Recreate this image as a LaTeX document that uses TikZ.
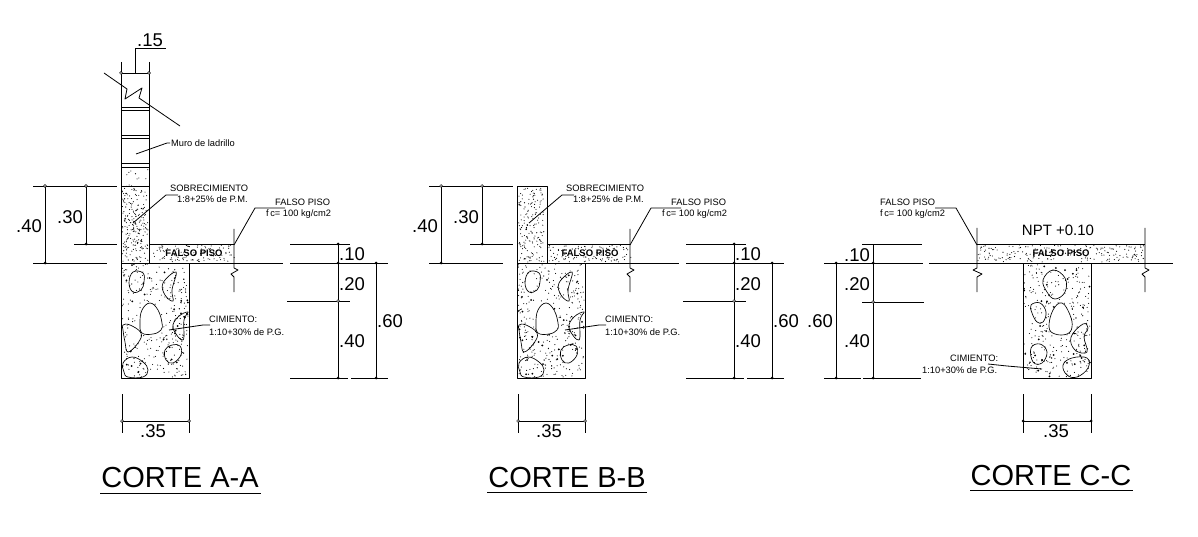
\documentclass[tikz,border=0pt]{standalone}
\usepackage{fontspec}
\setmainfont{Liberation Sans}
\tikzset{
  linea/.style={line width=0.8pt, line join=round},
  stone/.style={line width=0.65pt, smooth cycle, tension=0.7},
  dimtext/.style={inner sep=0pt, font=\fontsize{18.5}{18}\selectfont},
  notetext/.style={inner sep=0pt, anchor=west, font=\fontsize{9.3}{10}\selectfont},
  slabtext/.style={inner sep=0pt, font=\fontsize{9.5}{10}\selectfont\bfseries},
  titletext/.style={inner sep=0pt, font=\fontsize{29}{30}\selectfont}
}
% random concrete dots inside a box
\newcommand{\stipple}[6]{
  \foreach \i in {1,...,#5}{
    \pgfmathsetmacro\dotx{#1+rnd*(#3-#1)}
    \pgfmathsetmacro\doty{#2+rnd*(#4-#2)}
    \fill (\dotx,\doty) circle (#6);
  }
}
\newcommand{\dimdots}[1]{\foreach \p in {#1}{\fill \p circle (1.5);}}
\newcommand{\opendots}[1]{\foreach \p in {#1}{\filldraw[fill=white,line width=0.5pt] \p circle (1.4);}}
\begin{document}
\begin{tikzpicture}[x=1pt,y=-1pt]
\useasboundingbox (0,0) rectangle (1198,537);
\pgfmathsetseed{4711}

% parts shared by corte A-A and corte B-B
\foreach \sx/\wl/\s in {0/149/a,396/151/b}{
\begin{scope}[shift={(\sx,0)}]
  \stipple{122}{264}{188}{377}{300}{0.55}
  \stipple{122}{264}{188}{377}{30}{1.0}
  \stipple{122}{188}{148}{262}{170}{0.55}
  \stipple{\wl+1}{245}{233}{262}{110}{0.55}
  \draw[linea] (121,263) rectangle (189,378);
  \draw[linea] (\wl,263) -- (\wl,244) -- (234,244);
  % stones
  \draw[stone] plot coordinates {(129,283) (133,272) (143,273) (144,282) (141,290) (133,292)};
  \draw[stone] plot coordinates {(163,283) (176,272) (172,290) (173,301) (165,295)};
  \draw[stone,fill=white] plot coordinates {(140,323) (142,310) (150,303) (158,310) (162,323) (161,330) (153,334) (142,333)};
  \draw[stone] plot coordinates {(188,312) (178,317) (173,328) (183,340) (184,320)};
  \draw[stone] plot coordinates {(123,325) (130,325) (141,333) (138,343) (128,352) (125,342) (123,330)};
  \draw[stone] plot coordinates {(165,350) (172,345) (180,346) (181,355) (173,363) (166,360)};
  \draw[stone] plot coordinates {(123,363) (132,357) (143,362) (148,370) (143,377) (128,377) (124,372)};
  % floor line and break
  \draw[linea] (121,263) -- (283,263);
  \draw[linea] (290,263) -- (388,263);
  \draw[linea] (234,229) -- (234,268) -- (238,270) -- (231,274) -- (234,277) -- (234,292);
  % dimensions
  \draw[linea] (33,186) -- (117,186);
  \draw[linea] (33,263) -- (107,263);
  \draw[linea] (74,244) -- (117,244);
  \draw[linea] (45,186) -- (45,263);
  \draw[linea] (86,186) -- (86,244);
  \draw[linea] (290,244) -- (350,244);
  \draw[linea] (287,301) -- (350,301);
  \draw[linea] (290,378) -- (348,378);
  \draw[linea] (351,378) -- (388,378);
  \draw[linea] (338,244) -- (338,378);
  \draw[linea] (376,263) -- (376,378);
  \draw[linea] (122,394) -- (122,433);
  \draw[linea] (189,394) -- (189,433);
  \draw[linea] (122,421) -- (189,421);
  \dimdots{(45,263),(86,244),(338,244),(338,263),(376,263),(338,378),(376,378)}
  \opendots{(45,186),(86,186),(338,301),(122,421),(189,421)}
  \node[dimtext] (d40\s) at (29,226) {.40};
  \node[dimtext] (d30\s) at (70,217) {.30};
  \node[dimtext] (d10\s) at (352,254) {.10};
  \node[dimtext] (d20\s) at (352,284) {.20};
  \node[dimtext] (dd40\s) at (352,341) {.40};
  \node[dimtext] (d60\s) at (390,321) {.60};
  \node[dimtext] (d35\s) at (153,431) {.35};
  \node[slabtext] (slab\s) at (194,253) {FALSO PISO};
  % notes
  \node[notetext] (sob\s) at (170,188) {SOBRECIMIENTO};
  \node[notetext] (sobb\s) at (177,199) {1:8+25\% de P.M.};
  \draw[linea] (133,223) -- (166,195) -- (178,195);
  \node[notetext] (fal\s) at (275,202) {FALSO PISO};
  \node[notetext] (fall\s) at (266,214) {f\kern1.5pt c= 100 kg/cm2};
  \draw[linea] (234,245) -- (255,208) -- (285,208);
  \node[notetext] (cim\s) at (209,319) {CIMIENTO:};
  \node[notetext] (cimm\s) at (209,332) {1:10+30\% de P.G.};
  \draw[linea] (169,330) -- (203,325) -- (210,325);
\end{scope}
}

% corte A-A, brick wall
\stipple{122}{168}{148}{262}{60}{0.55}
\draw[linea] (121,62) -- (121,263);
\draw[linea] (149,62) -- (149,263);
\draw[linea] (121,73) -- (149,73);
\draw[linea] (135,73) -- (135,48) -- (166,48);
\opendots{(121,73),(149,73)}
\draw[linea] (104,73) -- (127,89) -- (125,99) -- (142,88) -- (139,98) -- (180,126);
\foreach \yy in {107,110,135,138,163,167,186}{\draw[linea] (121,\yy) -- (149,\yy);}
\node[dimtext] (d15) at (150,40) {.15};
\node[notetext] (muro) at (171,143) {Muro de ladrillo};
\draw[linea] (136,154) -- (167,143) -- (170,143);
\node[titletext] (titlea) at (180,478) {CORTE A-A};
\draw[linea] (100,493) -- (261,493);

% corte B-B, wall stub
\draw[linea] (517,186) rectangle (547,263);
\node[titletext] (titleb) at (567,478) {CORTE B-B};
\draw[linea] (487,492) -- (647,492);

% corte C-C
\stipple{1024}{264}{1090}{377}{300}{0.55}
\stipple{1024}{264}{1090}{377}{30}{1.0}
\stipple{978}{245}{1144}{262}{200}{0.55}
\draw[linea] (1023,263) rectangle (1091,378);
\draw[linea] (977,244) -- (1145,244);
\draw[stone] plot coordinates {(1043,280) (1053,270) (1065,278) (1065,292) (1055,299) (1047,292)};
\draw[stone] plot coordinates {(1031,305) (1040,303) (1046,312) (1043,322) (1037,322) (1032,313)};
\draw[stone,fill=white] plot coordinates {(1049,327) (1053,310) (1062,303) (1070,315) (1072,327) (1067,334) (1055,334)};
\draw[stone] plot coordinates {(1071,337) (1083,324) (1088,328) (1084,337) (1087,352) (1075,350)};
\draw[stone] plot coordinates {(1031,348) (1040,344) (1047,352) (1042,363) (1033,362)};
\draw[stone] plot coordinates {(1063,365) (1072,358) (1087,358) (1088,368) (1077,377) (1067,375)};
\draw[linea] (824,263) -- (923,263);
\draw[linea] (929,263) -- (1173,263);
\draw[linea] (977,228) -- (977,268) -- (973,270) -- (982,274) -- (977,277) -- (977,292);
\draw[linea] (1145,228) -- (1145,268) -- (1149,270) -- (1142,274) -- (1145,277) -- (1145,292);
\draw[linea] (862,244) -- (922,244);
\draw[linea] (862,302) -- (924,302);
\draw[linea] (824,378) -- (861,378);
\draw[linea] (863,378) -- (921,378);
\draw[linea] (873,244) -- (873,378);
\draw[linea] (836,263) -- (836,378);
\draw[linea] (1023,394) -- (1023,433);
\draw[linea] (1091,394) -- (1091,433);
\draw[linea] (1023,421) -- (1091,421);
\dimdots{(836,263),(873,263),(836,378),(873,378),(1023,421),(1091,421)}
\opendots{(873,302)}
\node[dimtext] (d10c) at (857,255) {.10};
\node[dimtext] (d20c) at (857,284) {.20};
\node[dimtext] (d40c) at (857,341) {.40};
\node[dimtext] (d60c) at (820,321) {.60};
\node[dimtext] (d35c) at (1056,431) {.35};
\node[dimtext,font=\fontsize{15}{15}\selectfont] (npt) at (1058,230) {NPT +0.10};
\node[slabtext] (slabc) at (1061,253) {FALSO PISO};
\node[notetext] (falc) at (880,202) {FALSO PISO};
\node[notetext] (fallc) at (880,214) {f\kern1.5pt c= 100 kg/cm2};
\draw[linea] (977,245) -- (956,208) -- (935,208);
\node[notetext] (cimc) at (950,358) {CIMIENTO:};
\node[notetext] (cimmc) at (922,370) {1:10+30\% de P.G.};
\draw[linea] (1042,369) -- (1007,366) -- (988,364);
\node[titletext] (titlec) at (1051,476) {CORTE C-C};
\draw[linea] (970,490) -- (1133,490);
\end{tikzpicture}
\end{document}
